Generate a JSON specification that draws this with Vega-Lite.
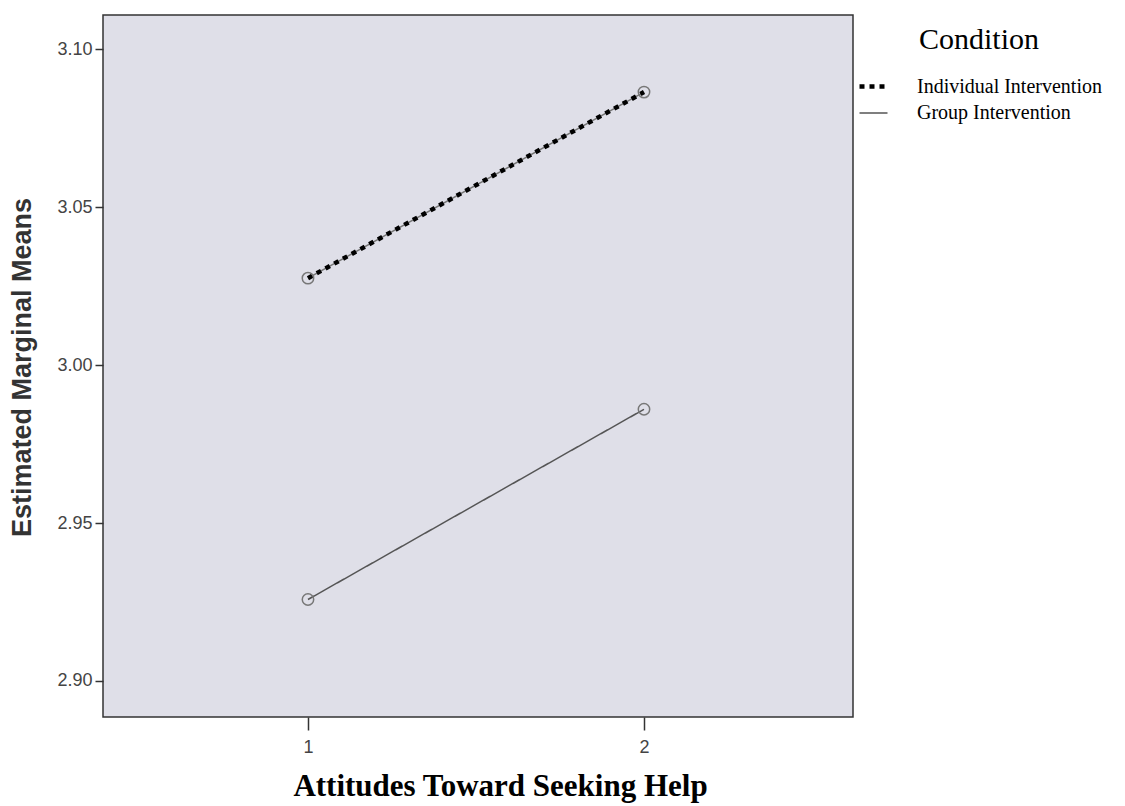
{
  "$schema": "https://vega.github.io/schema/vega-lite/v6.json",
  "autosize": {"type": "none"},
  "padding": {"left": 103, "top": 15, "right": 272, "bottom": 89},
  "width": 750,
  "height": 702,
  "background": "white",
  "config": {
    "view": {"fill": "#dfdfe8", "stroke": "#333333", "strokeWidth": 1.5},
    "axis": {"domain": false, "grid": false, "labelFont": "Liberation Sans", "labelFontSize": 18, "labelColor": "#444444", "tickColor": "#333333", "tickWidth": 1.5}
  },
  "data": {
    "values": [
      {"attitude": 1, "mean": 3.0275, "condition": "Individual Intervention"},
      {"attitude": 2, "mean": 3.0864, "condition": "Individual Intervention"},
      {"attitude": 1, "mean": 2.9258, "condition": "Group Intervention"},
      {"attitude": 2, "mean": 2.9860, "condition": "Group Intervention"}
    ]
  },
  "encoding": {
    "x": {
      "field": "attitude", "type": "quantitative",
      "scale": {"domain": [0.39, 2.622], "nice": false, "zero": false},
      "axis": {
        "values": [1, 2], "format": "d", "tickSize": 13, "labelPadding": 8,
        "title": "Attitudes Toward Seeking Help",
        "titleFont": "Liberation Serif", "titleFontSize": 31, "titleFontWeight": "bold", "titleColor": "#000000",
        "titleX": 397, "titleY": 78, "titleAlign": "center", "titleBaseline": "alphabetic"
      }
    },
    "y": {
      "field": "mean", "type": "quantitative",
      "scale": {"domain": [2.8886, 3.1108], "nice": false, "zero": false},
      "axis": {
        "values": [2.9, 2.95, 3.0, 3.05, 3.1], "format": ".2f", "tickSize": 8, "labelPadding": 3,
        "title": "Estimated Marginal Means",
        "titleFont": "Liberation Sans", "titleFontSize": 27, "titleFontWeight": "bold", "titleColor": "#333333",
        "titleX": -81, "titleY": 352, "titleAngle": -90, "titleAlign": "center", "titleBaseline": "middle"
      }
    }
  },
  "layer": [
    {
      "transform": [{"filter": "datum.condition === 'Individual Intervention'"}],
      "mark": {"type": "line", "color": "#777777", "strokeWidth": 1.5},
      "encoding": {"detail": {"field": "condition", "type": "nominal"}}
    },
    {
      "mark": {"type": "line"},
      "encoding": {
        "color": {
          "field": "condition", "type": "nominal",
          "scale": {"domain": ["Individual Intervention", "Group Intervention"], "range": ["#000000", "#555555"]},
          "legend": {
            "title": "Condition", "orient": "none", "legendX": 754, "legendY": 10,
            "titleFont": "Liberation Serif", "titleFontSize": 30, "titleFontWeight": "normal", "titleColor": "#000000",
            "titleAnchor": "middle", "titlePadding": 15,
            "labelFont": "Liberation Serif", "labelFontSize": 20, "labelColor": "#000000", "labelOffset": 27, "labelLimit": 400,
            "symbolSize": 784, "rowPadding": 1, "symbolType": "stroke"
          }
        },
        "strokeDash": {
          "field": "condition", "type": "nominal",
          "scale": {"domain": ["Individual Intervention", "Group Intervention"], "range": [[5, 5], [1, 0]]}
        },
        "strokeWidth": {
          "field": "condition", "type": "ordinal",
          "scale": {"domain": ["Individual Intervention", "Group Intervention"], "range": [4.5, 1.5]}
        }
      }
    },
    {
      "mark": {"type": "point", "shape": "circle", "filled": false, "stroke": "#777777", "strokeWidth": 1.5, "size": 130, "opacity": 1},
      "encoding": {"detail": {"field": "condition", "type": "nominal"}}
    }
  ]
}
